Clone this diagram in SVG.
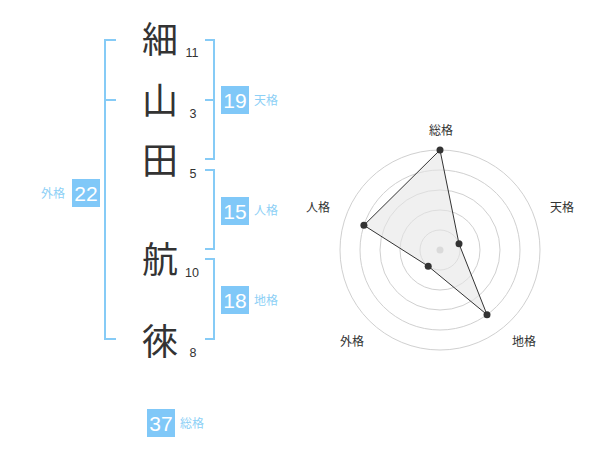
<svg xmlns="http://www.w3.org/2000/svg" width="600" height="470" viewBox="0 0 600 470">
<style>
.kanji{font-family:"Noto Sans CJK JP","Noto Sans CJK SC",sans-serif;font-size:36px;fill:#333;text-anchor:middle}
.stroke{font-family:"Liberation Sans",Arial,sans-serif;font-size:12.5px;fill:#333;text-anchor:middle}
.br{fill:none;stroke:#86cbf6;stroke-width:2}
.box{fill:#80c8f8}
.num{font-family:"Liberation Sans",Arial,sans-serif;font-size:21px;fill:#fff;text-anchor:middle}
.lbl{font-family:"Noto Sans CJK JP","Noto Sans CJK SC",sans-serif;font-size:12px;fill:#8dd0f6}
.ring{fill:none;stroke:#d0d0d0;stroke-width:1}
.rl{font-family:"Noto Sans CJK JP","Noto Sans CJK SC",sans-serif;font-size:12px;fill:#333;text-anchor:middle}
.dot{fill:#333}
</style>
<rect width="600" height="470" fill="#fff"/>
<g id="chars">
<g id="c1"><text class="kanji" x="160" y="53">細</text><text class="stroke" x="192" y="57">11</text></g>
<g id="c2"><text class="kanji" x="160" y="114">山</text><text class="stroke" x="193" y="117.5">3</text></g>
<g id="c3"><text class="kanji" x="160" y="174">田</text><text class="stroke" x="193" y="178">5</text></g>
<g id="c4"><text class="kanji" x="160" y="273">航</text><text class="stroke" x="192" y="277">10</text></g>
<g id="c5"><text class="kanji" x="160" y="355">徠</text><text class="stroke" x="193" y="357">8</text></g>
</g>
<g id="connectors">
<path class="br" d="M116,40 H105 V339 H116 M105,100 H116"/>
<path class="br" d="M205,40 H214 V159 H205 M205,100 H214"/>
<path class="br" d="M205,170 H214 V249 H205"/>
<path class="br" d="M205,259 H214 V339 H205"/>
</g>
<g id="gaikaku"><rect class="box" x="72" y="179" width="28" height="28"/><text class="num" x="86" y="200.5">22</text><text class="lbl" x="65" y="198" text-anchor="end">外格</text></g>
<g id="tenkaku"><rect class="box" x="221" y="86" width="28" height="28"/><text class="num" x="235" y="107.5">19</text><text class="lbl" x="254" y="104.5">天格</text></g>
<g id="jinkaku"><rect class="box" x="221" y="197" width="28" height="28"/><text class="num" x="235" y="218.5">15</text><text class="lbl" x="254" y="215">人格</text></g>
<g id="chikaku"><rect class="box" x="221" y="286" width="28" height="28"/><text class="num" x="235" y="307.5">18</text><text class="lbl" x="254" y="305">地格</text></g>
<g id="soukaku"><rect class="box" x="147" y="409" width="28" height="28"/><text class="num" x="161" y="430.5">37</text><text class="lbl" x="180" y="428">総格</text></g>
<g id="radar">
<circle class="ring" cx="440" cy="250" r="20"/>
<circle class="ring" cx="440" cy="250" r="40"/>
<circle class="ring" cx="440" cy="250" r="60"/>
<circle class="ring" cx="440" cy="250" r="80"/>
<circle class="ring" cx="440" cy="250" r="100"/>
<circle cx="440" cy="250" r="3.5" fill="#c8c8c8"/>
<polygon points="440,150 459,243.8 487,314.7 428.2,266.2 363.9,225.3" fill="#e6e6e6" fill-opacity="0.6" stroke="#333" stroke-width="1"/>
<circle class="dot" cx="440" cy="150" r="3.5"/>
<circle class="dot" cx="459" cy="243.8" r="3.5"/>
<circle class="dot" cx="487" cy="314.7" r="3.5"/>
<circle class="dot" cx="428.2" cy="266.2" r="3.5"/>
<circle class="dot" cx="363.9" cy="225.3" r="3.5"/>
<text class="rl" x="441" y="135">総格</text>
<text class="rl" x="562" y="212">天格</text>
<text class="rl" x="524" y="346">地格</text>
<text class="rl" x="352" y="346">外格</text>
<text class="rl" x="318" y="212">人格</text>
</g>
</svg>
